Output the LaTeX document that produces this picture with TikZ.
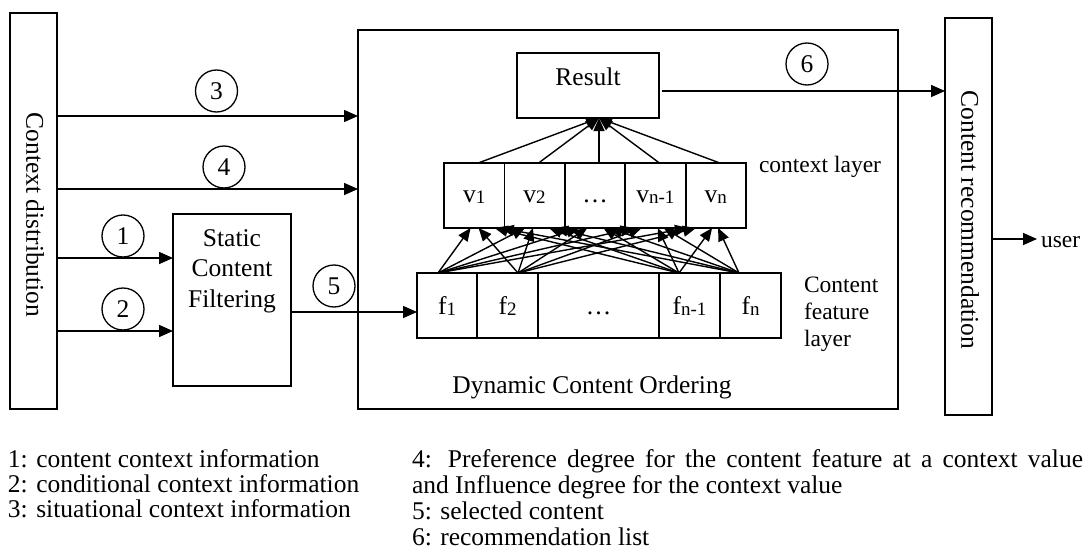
\documentclass[tikz,border=0pt]{standalone}
\usepackage{fontspec}
\setmainfont{Liberation Serif}
\usetikzlibrary{arrows.meta,calc}
\newcommand\sbs[1]{\raisebox{-1.5pt}{\fontsize{19}{19}\selectfont #1}}
\begin{document}
\begin{tikzpicture}[x=1pt,y=-1pt,
  every node/.style={inner sep=0pt, outer sep=0pt},
  box/.style={draw, line width=1.8pt, rectangle},
  arr/.style={line width=1.6pt, -{Triangle[length=14pt,width=12pt]}},
  narr/.style={line width=1.4pt, -{Triangle[length=13pt,width=11pt]}},
  num/.style={draw, circle, line width=1.3pt, minimum size=42pt, font=\fontsize{25.5}{25.5}\selectfont},
  txt/.style={font=\fontsize{25.5}{30.5}\selectfont},
  side/.style={font=\fontsize{23.5}{27}\selectfont},
  leg/.style={font=\fontsize{25.5}{25.5}\selectfont},
  vbox/.style={box, minimum width=60.4pt, minimum height=65pt, text height=13pt, text depth=0pt, font=\fontsize{25.5}{25.5}\selectfont},
  fbox/.style={box, minimum height=65pt, text height=17pt, text depth=0pt, font=\fontsize{25.5}{25.5}\selectfont}]
\useasboundingbox (0,0) rectangle (1086,559);

% main boxes
\node[box, minimum width=47pt, minimum height=396pt] (cd) at (33.5,211) {};
\node[txt, rotate=-90] (cdT) at (35,215) {Context distribution};
\node[box, minimum width=47pt, minimum height=397pt] (cr) at (968.5,216.5) {};
\node[txt, rotate=-90] (crT) at (970,220) {Content recommendation};
\node[box, minimum width=540pt, minimum height=379pt] (dyn) at (628,219.5) {};
\node[txt, anchor=base] (dynT) at (592,393) {Dynamic Content Ordering};
\node[box, minimum width=118pt, minimum height=172pt] (scf) at (232,300) {};
\node[txt, align=center, anchor=north] (scfT) at (232,229.5) {Static\\Content\\Filtering};
\node[box, minimum width=142pt, minimum height=65pt] (res) at (588,85.5) {};
\node[txt, anchor=base] (resT) at (588,86) {Result};

% context layer
\node[vbox] (v1) at (474.2,195.5) {v\sbs{1}};
\node[vbox] (v2) at (534.6,195.5) {v\sbs{2}};
\node[vbox] (v3) at (595.0,195.5) {…};
\node[vbox] (v4) at (655.4,195.5) {v\sbs{n-1}};
\node[vbox] (v5) at (715.8,195.5) {v\sbs{n}};
\node[side, anchor=base west] (ctxL) at (759,172) {context layer};

% content feature layer
\node[fbox, minimum width=60pt] (f1) at (447,305.5) {f\sbs{1}};
\node[fbox, minimum width=61pt] (f2) at (507.5,305.5) {f\sbs{2}};
\node[fbox, minimum width=121pt] (f3) at (598.5,305.5) {…};
\node[fbox, minimum width=61pt] (f4) at (689.5,305.5) {f\sbs{n-1}};
\node[fbox, minimum width=61pt] (f5) at (750.5,305.5) {f\sbs{n}};
\node[side, align=left, anchor=north west] (cfL) at (804,276.5) {Content\\feature\\layer};

% number circles
\node[num] (n1) at (123,236) {1};
\node[num] (n2) at (123,309) {2};
\node[num] (n3) at (216.5,91) {3};
\node[num] (n4) at (224,167) {4};
\node[num] (n5) at (334,286) {5};
\node[num] (n6) at (807,64) {6};

\node[side, anchor=base west] (userT) at (1041,247) {user};

% level coordinates
\coordinate (y3) at (0,116);
\coordinate (y4) at (0,189);
\coordinate (y1) at (0,258);
\coordinate (y2) at (0,331);
\coordinate (y5) at (0,312);
\coordinate (y6) at (0,91);
\coordinate (yu) at (0,239);

\draw[arr] (cd.east |- y3) -- (dyn.west |- y3);
\draw[arr] (cd.east |- y4) -- (dyn.west |- y4);
\draw[arr] (cd.east |- y1) -- (scf.west |- y1);
\draw[arr] (cd.east |- y2) -- (scf.west |- y2);
\draw[arr] (scf.east |- y5) -- (f1.west |- y5);
\draw[arr, shorten <=3pt] (res.east |- y6) -- (cr.west |- y6);
\draw[arr, shorten >=4pt] (cr.east |- yu) -- (userT.west |- yu);

% network
\coordinate (fs1) at (438,273);
\coordinate (fs2) at (518,273);
\coordinate (fs3) at (679,273);
\coordinate (fs4) at (739,273);
\coordinate (rin) at (599,118);
\foreach \j in {1,...,5} \draw[narr] ($(v\j.north)+(4,0)$) -- (rin);
\foreach \i in {1,...,4} \foreach \j in {1,...,5}
  \draw[narr] (fs\i) -- ($(v\j.south)!0.1!(fs\i |- v\j.south)$);

% legend
\node[leg, anchor=base west] (l1) at (8,467) {1: content context information};
\node[leg, anchor=base west] (l2) at (8,492) {2: conditional context information};
\node[leg, anchor=base west] (l3) at (8,517) {3: situational context information};
\node[leg, anchor=base west] (l4) at (412,467) {\makebox[671pt][s]{4: Preference degree for the content feature at a context value}};
\node[leg, anchor=base west] (l4b) at (412,493) {and Influence degree for the context value};
\node[leg, anchor=base west] (l5) at (412,519) {5: selected content};
\node[leg, anchor=base west] (l6) at (412,545) {6: recommendation list};
\end{tikzpicture}
\end{document}
